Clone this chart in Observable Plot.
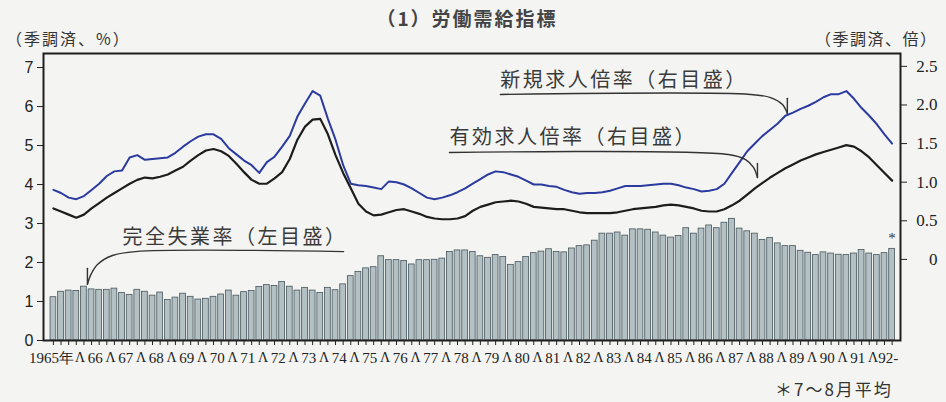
<!DOCTYPE html>
<html><head><meta charset="utf-8">
<script src="https://cdn.jsdelivr.net/npm/d3@7"></script>
<script src="https://cdn.jsdelivr.net/npm/@observablehq/plot@0.6"></script>
<style>
body{margin:0;background:#f4f5f2;}
#wrap{position:relative;width:946px;height:402px;background:#f4f5f2;overflow:hidden;font-family:"Noto Sans CJK JP",sans-serif;}
.lbl{position:absolute;white-space:nowrap;color:#333;line-height:1;}
#chart{position:absolute;left:0;top:0;}
</style></head><body><div id="wrap">
<div id="chart"></div>
<div class="lbl" style="left:0;width:934px;text-align:center;top:8px;font-size:19px;font-weight:bold;color:#444;letter-spacing:2px">（1）労働需給指標</div>
<div class="lbl" style="left:6px;top:30px;font-size:16px;letter-spacing:2px">（季調済、%）</div>
<div class="lbl" style="left:815px;top:30px;font-size:16px;letter-spacing:1.5px">（季調済、倍）</div>
<div class="lbl" style="left:775px;top:380px;font-size:17px;letter-spacing:2px">＊7～8月平均</div>
</div>
<script>
// ---- data (quarterly, 1965 Q1 – 1992 Q3) ----
const startYear = 1965;
// 完全失業率 (%), left axis
const unemployment = [
 1.11,1.25,1.28,1.27, 1.38,1.31,1.30,1.30, 1.33,1.22,1.17,1.30, 1.25,1.15,1.23,1.04,
 1.10,1.20,1.12,1.05, 1.07,1.12,1.18,1.28, 1.15,1.24,1.27,1.37, 1.42,1.40,1.50,1.38,
 1.28,1.35,1.28,1.22, 1.35,1.29,1.44,1.65, 1.76,1.85,1.88,2.16, 2.06,2.06,2.04,1.95,
 2.06,2.06,2.07,2.10, 2.27,2.31,2.31,2.27, 2.16,2.12,2.19,2.14, 1.94,2.01,2.14,2.24,
 2.28,2.34,2.27,2.26, 2.36,2.42,2.44,2.56, 2.74,2.74,2.77,2.69, 2.85,2.85,2.84,2.77,
 2.69,2.64,2.68,2.88, 2.74,2.87,2.95,2.88, 3.02,3.12,2.87,2.80, 2.74,2.58,2.63,2.49,
 2.42,2.42,2.30,2.25, 2.19,2.26,2.23,2.20, 2.19,2.23,2.32,2.23, 2.19,2.24,2.35
];
// 有効求人倍率 (倍), right axis
const activeRatio = [
 0.66,0.62,0.58,0.54, 0.58,0.66,0.73,0.80, 0.86,0.92,0.98,1.03, 1.06,1.05,1.07,1.10,
 1.15,1.20,1.28,1.35, 1.41,1.43,1.40,1.34, 1.24,1.13,1.03,0.98, 0.98,1.05,1.13,1.30,
 1.55,1.72,1.81,1.82, 1.62,1.35,1.12,0.92, 0.72,0.62,0.57,0.58, 0.61,0.64,0.65,0.62,
 0.59,0.55,0.53,0.52, 0.52,0.53,0.56,0.63, 0.68,0.71,0.74,0.75, 0.76,0.75,0.72,0.68,
 0.67,0.66,0.65,0.65, 0.63,0.61,0.60,0.60, 0.60,0.60,0.61,0.63, 0.65,0.66,0.67,0.68,
 0.70,0.71,0.70,0.68, 0.66,0.63,0.62,0.62, 0.65,0.70,0.76,0.84, 0.92,0.99,1.06,1.12,
 1.18,1.23,1.28,1.32, 1.36,1.39,1.42,1.45, 1.48,1.46,1.40,1.32, 1.22,1.12,1.02
];
// 新規求人倍率 (倍), right axis
const newRatio = [
 0.90,0.86,0.80,0.78, 0.82,0.90,0.98,1.08, 1.14,1.15,1.32,1.35, 1.29,1.30,1.31,1.32,
 1.38,1.46,1.53,1.59, 1.62,1.62,1.56,1.44, 1.36,1.28,1.22,1.12, 1.26,1.33,1.46,1.60,
 1.85,2.02,2.18,2.12, 1.82,1.55,1.22,0.98, 0.96,0.95,0.93,0.91, 1.01,1.00,0.97,0.92,
 0.86,0.80,0.78,0.80, 0.83,0.87,0.92,0.98, 1.04,1.10,1.14,1.13, 1.10,1.07,1.02,0.97,
 0.97,0.95,0.94,0.90, 0.87,0.85,0.86,0.86, 0.87,0.89,0.92,0.95, 0.95,0.95,0.96,0.97,
 0.98,0.98,0.96,0.93, 0.91,0.88,0.89,0.91, 0.98,1.12,1.26,1.40, 1.50,1.60,1.68,1.76,
 1.86,1.90,1.95,1.99, 2.04,2.10,2.14,2.14, 2.18,2.08,1.96,1.86, 1.75,1.62,1.50
];
const leftTicks = [0,1,2,3,4,5,6,7];
const rightTicks = [0,0.5,1,1.5,2,2.5];
const yearLabels = ["66","67","68","69","70","71","72","73","74","75","76","77","78","79",
 "80","81","82","83","84","85","86","87","88","89","90","91","92-"];
const firstYearLabel = "1965年";
const annLabels = ["新規求人倍率（右目盛）","有効求人倍率（右目盛）","完全失業率（左目盛）"];

// ---- layout helpers ----
const toLeft = r => 2.08 + 1.98 * r;   // right-axis (倍) onto left-axis (%) scale
const qTime = i => startYear + (i + 0.5) / 4;
const rows = unemployment.map((u, i) => ({t: qTime(i), u, active: activeRatio[i], nw: newRatio[i]}));
const last = rows[rows.length - 1];

// annotation placement (data units: year, left-axis value)
const annText = [
  {text: annLabels[0], t: 1979.78, v: 6.67},
  {text: annLabels[1], t: 1978.11, v: 5.21},
  {text: annLabels[2], t: 1967.39, v: 2.64}
];
const leaders = [
  [[1979.78,6.31],[1987.98,6.31],[1988.64,6.23],[1989.03,6.05],[1989.19,5.82]],
  [[1978.11,4.82],[1987.26,4.77],[1987.82,4.64],[1988.08,4.44],[1988.21,4.18]],
  [[1974.64,2.28],[1967.82,2.28],[1967.06,2.18],[1966.57,1.95],[1966.34,1.67],[1966.24,1.44]]
];
const barbs = [
  [[1989.19,5.82],[1989.19,6.21]],
  [[1988.21,4.18],[1988.21,4.54]],
  [[1966.24,1.44],[1966.24,1.85]]
];

const serif = "Liberation Serif, DejaVu Serif, serif";
const jp = "Noto Sans CJK JP, sans-serif";

const plot = Plot.plot({
  width: 946, height: 402,
  marginTop: 53, marginBottom: 62, marginLeft: 43, marginRight: 46,
  x: {type: "linear", domain: [1964.8, 1992.9]},
  y: {domain: [0, 7.36]},
  style: {background: "transparent", color: "#222"},
  marks: [
    Plot.rectY(rows, {x1: d => d.t - 0.095, x2: d => d.t + 0.095, y1: 0, y2: "u",
      fill: "#b3c0c4", stroke: "#47555b", strokeWidth: 0.8}),
    Plot.line(rows, {x: "t", y: d => toLeft(d.active), stroke: "#1d1d1d", strokeWidth: 2.2}),
    Plot.line(rows, {x: "t", y: d => toLeft(d.nw), stroke: "#2b3a9e", strokeWidth: 2}),
    Plot.frame({stroke: "#1e1e1e", strokeWidth: 2}),
    Plot.axisY({anchor: "left", ticks: leftTicks, tickSize: 6, tickPadding: 4, fontSize: 16,
      fontFamily: "Liberation Sans, Arial, sans-serif", label: null, tickFormat: d => String(d)}),
    Plot.axisY({anchor: "right", ticks: rightTicks.map(toLeft), tickSize: 6, tickFormat: () => "", label: null}),
    Plot.text(rightTicks, {y: r => toLeft(r), text: r => r === 0 ? "0" : r.toFixed(1), frameAnchor: "right",
      dx: 37, textAnchor: "end", fontSize: 17, fontFamily: serif, fill: "#222"}),
    Plot.axisX({ticks: rows.map(d => d.t), tickSize: 5, tickFormat: () => "", label: null}),
    Plot.text([firstYearLabel], {x: () => startYear + 1, text: d => d, frameAnchor: "bottom", dy: 22, dx: -6,
      textAnchor: "end", fontSize: 15, fontFamily: serif, fill: "#222"}),
    Plot.text(yearLabels, {x: (d, i) => startYear + 1 + i + 0.5, text: d => d, frameAnchor: "bottom", dy: 22,
      fontSize: 15, fontFamily: serif, fill: "#222"}),
    Plot.text(d3.range(startYear + 1, startYear + 28), {x: d => d, text: () => "Λ", frameAnchor: "bottom", dy: 21,
      fontSize: 14, fontFamily: serif, fill: "#222"}),
    Plot.text([last], {x: "t", y: "u", text: () => "*", dy: -11, fontSize: 15, fontFamily: serif, fill: "#333"}),
    ...leaders.map(pts => Plot.line(pts, {x: d => d[0], y: d => d[1], curve: "catmull-rom", stroke: "#333", strokeWidth: 1.4})),
    ...barbs.map(pts => Plot.line(pts, {x: d => d[0], y: d => d[1], stroke: "#333", strokeWidth: 1.4})),
    Plot.text(annText, {x: "t", y: "v", text: "text", textAnchor: "start", fontSize: 20, fontFamily: jp,
      fill: "#3a3a3a"})
  ]
});
plot.querySelectorAll("text").forEach(t => {
  if (annLabels.includes(t.textContent)) {
    t.setAttribute("letter-spacing", "2.5");
    t.style.letterSpacing = "2.5px";
  }
});
document.getElementById("chart").appendChild(plot);
</script>
</body></html>
